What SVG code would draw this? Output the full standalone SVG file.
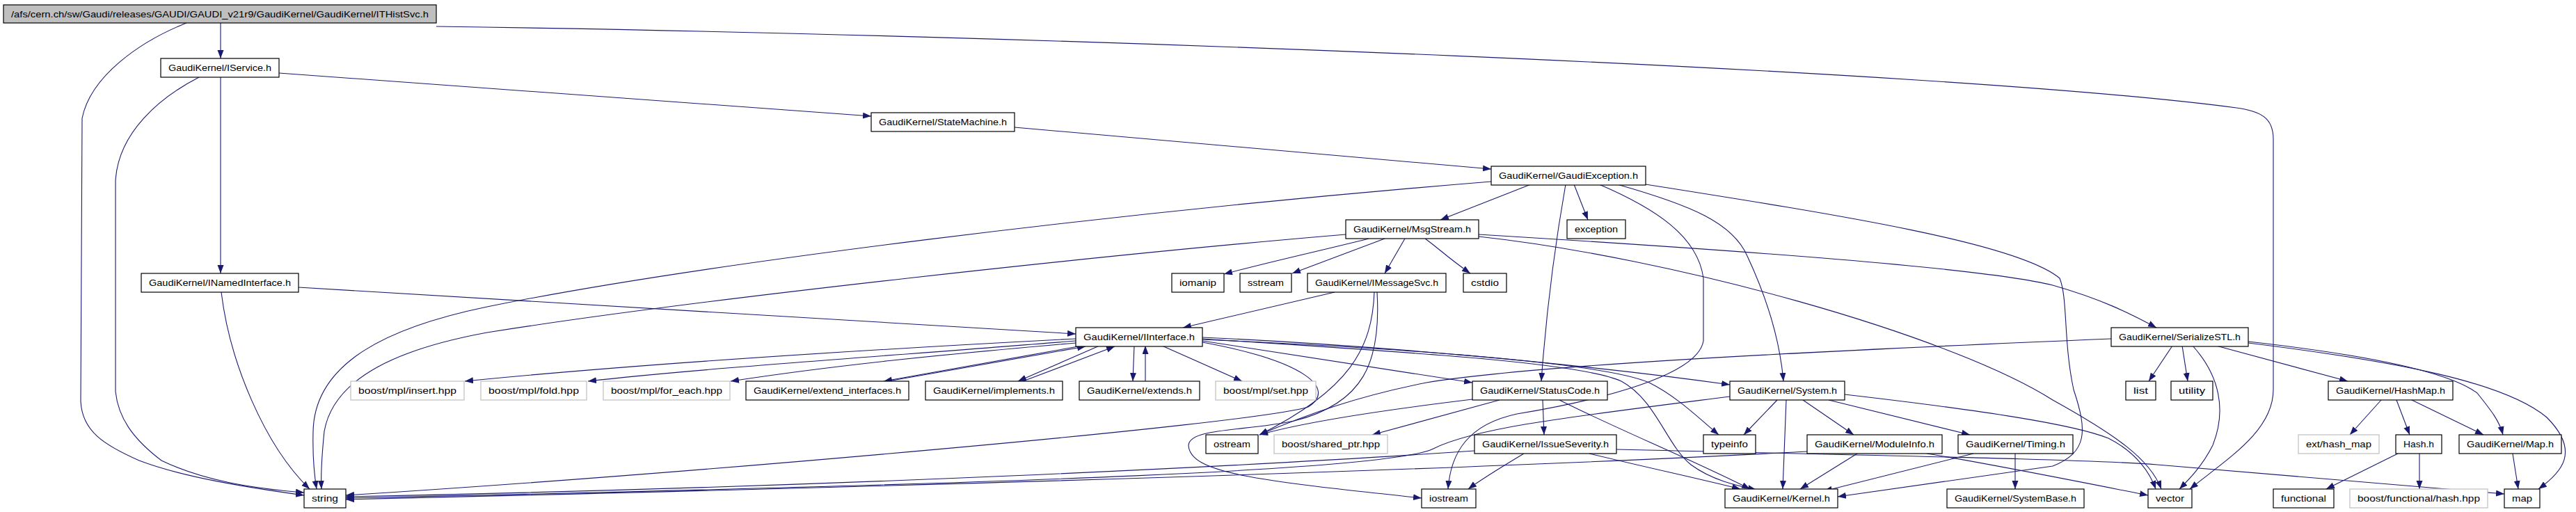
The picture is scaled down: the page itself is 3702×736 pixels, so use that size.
<svg xmlns="http://www.w3.org/2000/svg" width="3702" height="736" viewBox="0 0 3702 736">
<style>
.n rect{fill:#ffffff;stroke:#000000;stroke-width:1.2}
.n.g rect{stroke:#bfbfbf}
.n.r rect{fill:#bfbfbf}
.n text{font-family:"Liberation Sans",Arial,sans-serif;font-size:13px;text-anchor:middle;fill:#000000}
#edges path{fill:none;stroke:#191970;stroke-width:1.1;marker-end:url(#a)}
</style>
<defs>
<marker id="a" markerUnits="userSpaceOnUse" markerWidth="12" markerHeight="10" refX="12" refY="4.5" orient="auto"><path d="M0,0 L12,4.5 L0,9 z" fill="#191970" stroke="none"/></marker>
</defs>
<rect width="3702" height="736" fill="#ffffff"/>
<g id="edges">
<path d="M317,33 L317,84"/>
<path d="M268,33 C200,60 130,110 118,170 L116,577 C118,620 150,640 200,662 C260,685 350,700 437,712"/>
<path d="M627,38 C1500,50 2800,100 3214,155 C3250,160 3267,170 3267,200 L3267,560 C3267,620 3200,660 3147,703"/>
<path d="M317,111 L317,393"/>
<path d="M286,111 C230,140 170,190 166,260 L166,563 C170,600 190,630 232,662 C290,690 360,702 437,708"/>
<path d="M401,105 L1252,167"/>
<path d="M1458,183 L2143,243"/>
<path d="M318,420 C330,520 380,640 445,703"/>
<path d="M429,413 C900,440 1300,465 1546,480"/>
<path d="M2200,265 L2070,316"/>
<path d="M2143,261 C1600,305 1000,380 700,441 C560,470 452,520 450,620 C449,660 452,685 455,703"/>
<path d="M1934,337 C1600,365 1000,430 700,478 C580,500 480,540 466,620 C462,660 461,685 462,703"/>
<path d="M2262,265 L2282,316"/>
<path d="M2250,265 C2235,350 2222,450 2215,548"/>
<path d="M2298,265 C2380,300 2440,340 2448,400 L2448,490 C2440,540 2300,575 2180,595 C2110,610 2085,650 2081,703"/>
<path d="M2324,265 C2430,295 2490,320 2511,368 C2540,430 2558,490 2563,548"/>
<path d="M2365,265 C2650,310 2900,350 2960,400 C2972,430 2965,490 2980,560 C3000,620 3000,650 2950,670 L2641,714"/>
<path d="M1967,343 C1900,360 1830,375 1759,394"/>
<path d="M1990,343 L1857,393"/>
<path d="M2019,343 L1990,393"/>
<path d="M2048,343 C2065,355 2080,370 2113,393"/>
<path d="M2125,337 C2500,360 2850,385 2950,410 C3020,430 3060,450 3099,471"/>
<path d="M2125,340 C2400,370 2800,480 2950,575 C3040,625 3090,660 3106,703"/>
<path d="M1918,420 L1700,471"/>
<path d="M1975,420 C1972,500 1940,560 1810,625"/>
<path d="M1979,420 C1985,520 1960,580 1860,605 C1790,620 1710,615 1708,640 C1710,680 1800,690 2043,716"/>
<path d="M1728,492 C1880,520 1920,560 1880,585 C1800,610 1000,680 497,712"/>
<path d="M3034,487 C2600,505 2200,525 2050,550 C1950,570 1880,595 1810,625"/>
<path d="M2116,574 C2000,588 1880,605 1810,625"/>
<path d="M2155,575 L1972,625"/>
<path d="M2217,575 L2219,625"/>
<path d="M2241,575 C2320,615 2430,660 2515,703"/>
<path d="M2284,652 C2380,675 2450,690 2501,703"/>
<path d="M2323,646 C2700,655 3000,660 3100,668 L3599,710"/>
<path d="M2119,648 C1800,670 1200,700 497,714"/>
<path d="M2190,652 C2160,670 2130,688 2110,703"/>
<path d="M1728,490 L2116,550"/>
<path d="M1728,485 C1950,495 2250,520 2486,553"/>
<path d="M1728,487 C2000,505 2270,520 2330,548 C2380,575 2395,640 2430,668 C2460,690 2495,698 2524,704"/>
<path d="M1728,488 C2000,500 2300,520 2370,550 C2410,570 2440,600 2470,625"/>
<path d="M2554,575 L2506,625"/>
<path d="M2567,575 L2562,703"/>
<path d="M2591,575 L2664,625"/>
<path d="M2628,575 L2831,625"/>
<path d="M2651,567 C2850,590 2980,610 3030,630 C3070,650 3090,680 3098,703"/>
<path d="M2486,570 C2250,600 2120,615 2060,645 C2000,675 1500,695 497,716"/>
<path d="M2669,652 L2587,703"/>
<path d="M2597,649 C2300,665 1700,690 497,718"/>
<path d="M2769,652 C2850,665 2950,685 3087,712"/>
<path d="M2836,652 L2621,706"/>
<path d="M2896,652 L2896,703"/>
<path d="M3122,497 L3088,548"/>
<path d="M3136,497 L3144,548"/>
<path d="M3151,497 C3190,540 3200,590 3180,640 C3165,670 3145,690 3132,703"/>
<path d="M3185,497 L3374,548"/>
<path d="M3231,491 C3400,510 3520,535 3560,565 C3580,590 3592,605 3597,625"/>
<path d="M3231,493 C3450,520 3600,550 3660,600 C3710,650 3680,680 3648,703"/>
<path d="M3422,575 L3377,625"/>
<path d="M3444,575 L3463,625"/>
<path d="M3466,575 L3569,625"/>
<path d="M3446,652 L3343,703"/>
<path d="M3477,652 L3477,703"/>
<path d="M3611,652 L3619,703"/>
<path d="M1546,487 C1200,505 900,525 668,548"/>
<path d="M1546,490 C1300,510 1000,530 845,548"/>
<path d="M1546,493 C1350,510 1200,525 1050,548"/>
<path d="M1555,497 L1270,548"/>
<path d="M1276,548 L1560,498"/>
<path d="M1580,497 L1463,548"/>
<path d="M1470,548 L1602,498"/>
<path d="M1630,497 L1628,548"/>
<path d="M1646,548 L1646,497"/>
<path d="M1670,497 L1785,548"/>
</g>
<g id="n1" class="n r"><rect x="5" y="7" width="622" height="26"/><text x="316" y="25" textLength="600" lengthAdjust="spacingAndGlyphs">/afs/cern.ch/sw/Gaudi/releases/GAUDI/GAUDI_v21r9/GaudiKernel/GaudiKernel/ITHistSvc.h</text></g>
<g id="n2" class="n"><rect x="231" y="84" width="170" height="27"/><text x="316" y="102" textLength="148" lengthAdjust="spacingAndGlyphs">GaudiKernel/IService.h</text></g>
<g id="n3" class="n"><rect x="1252" y="162" width="206" height="27"/><text x="1355" y="180" textLength="184" lengthAdjust="spacingAndGlyphs">GaudiKernel/StateMachine.h</text></g>
<g id="n4" class="n"><rect x="2143" y="239" width="222" height="27"/><text x="2254" y="257" textLength="200" lengthAdjust="spacingAndGlyphs">GaudiKernel/GaudiException.h</text></g>
<g id="n5" class="n"><rect x="1934" y="316" width="191" height="27"/><text x="2029.5" y="334" textLength="169" lengthAdjust="spacingAndGlyphs">GaudiKernel/MsgStream.h</text></g>
<g id="n6" class="n"><rect x="2252" y="316" width="84" height="27"/><text x="2294" y="334" textLength="62" lengthAdjust="spacingAndGlyphs">exception</text></g>
<g id="n7" class="n"><rect x="203" y="393" width="226" height="27"/><text x="316" y="411" textLength="204" lengthAdjust="spacingAndGlyphs">GaudiKernel/INamedInterface.h</text></g>
<g id="n8" class="n"><rect x="1684" y="393" width="75" height="27"/><text x="1721.5" y="411" textLength="53" lengthAdjust="spacingAndGlyphs">iomanip</text></g>
<g id="n9" class="n"><rect x="1782" y="393" width="74" height="27"/><text x="1819" y="411" textLength="52" lengthAdjust="spacingAndGlyphs">sstream</text></g>
<g id="n10" class="n"><rect x="1879" y="393" width="199" height="27"/><text x="1978.5" y="411" textLength="177" lengthAdjust="spacingAndGlyphs">GaudiKernel/IMessageSvc.h</text></g>
<g id="n11" class="n"><rect x="2103" y="393" width="62" height="27"/><text x="2134" y="411" textLength="40" lengthAdjust="spacingAndGlyphs">cstdio</text></g>
<g id="n12" class="n"><rect x="1546" y="471" width="182" height="27"/><text x="1637" y="489" textLength="160" lengthAdjust="spacingAndGlyphs">GaudiKernel/IInterface.h</text></g>
<g id="n13" class="n"><rect x="3034" y="471" width="197" height="27"/><text x="3132.5" y="489" textLength="175" lengthAdjust="spacingAndGlyphs">GaudiKernel/SerializeSTL.h</text></g>
<g id="n14" class="n g"><rect x="504" y="548" width="163" height="27"/><text x="585.5" y="566" textLength="141" lengthAdjust="spacingAndGlyphs">boost/mpl/insert.hpp</text></g>
<g id="n15" class="n g"><rect x="691" y="548" width="152" height="27"/><text x="767" y="566" textLength="130" lengthAdjust="spacingAndGlyphs">boost/mpl/fold.hpp</text></g>
<g id="n16" class="n g"><rect x="867" y="548" width="182" height="27"/><text x="958" y="566" textLength="160" lengthAdjust="spacingAndGlyphs">boost/mpl/for_each.hpp</text></g>
<g id="n17" class="n"><rect x="1072" y="548" width="234" height="27"/><text x="1189" y="566" textLength="212" lengthAdjust="spacingAndGlyphs">GaudiKernel/extend_interfaces.h</text></g>
<g id="n18" class="n"><rect x="1330" y="548" width="197" height="27"/><text x="1428.5" y="566" textLength="175" lengthAdjust="spacingAndGlyphs">GaudiKernel/implements.h</text></g>
<g id="n19" class="n"><rect x="1551" y="548" width="173" height="27"/><text x="1637.5" y="566" textLength="151" lengthAdjust="spacingAndGlyphs">GaudiKernel/extends.h</text></g>
<g id="n20" class="n g"><rect x="1747" y="548" width="144" height="27"/><text x="1819" y="566" textLength="122" lengthAdjust="spacingAndGlyphs">boost/mpl/set.hpp</text></g>
<g id="n21" class="n"><rect x="2116" y="548" width="194" height="27"/><text x="2213" y="566" textLength="172" lengthAdjust="spacingAndGlyphs">GaudiKernel/StatusCode.h</text></g>
<g id="n22" class="n"><rect x="2486" y="548" width="165" height="27"/><text x="2568.5" y="566" textLength="143" lengthAdjust="spacingAndGlyphs">GaudiKernel/System.h</text></g>
<g id="n23" class="n"><rect x="3055" y="548" width="43" height="27"/><text x="3076.5" y="566" textLength="21" lengthAdjust="spacingAndGlyphs">list</text></g>
<g id="n24" class="n"><rect x="3120" y="548" width="60" height="27"/><text x="3150" y="566" textLength="38" lengthAdjust="spacingAndGlyphs">utility</text></g>
<g id="n25" class="n"><rect x="3346" y="548" width="179" height="27"/><text x="3435.5" y="566" textLength="157" lengthAdjust="spacingAndGlyphs">GaudiKernel/HashMap.h</text></g>
<g id="n26" class="n"><rect x="1733" y="625" width="75" height="27"/><text x="1770.5" y="643" textLength="53" lengthAdjust="spacingAndGlyphs">ostream</text></g>
<g id="n27" class="n g"><rect x="1831" y="625" width="163" height="27"/><text x="1912.5" y="643" textLength="141" lengthAdjust="spacingAndGlyphs">boost/shared_ptr.hpp</text></g>
<g id="n28" class="n"><rect x="2119" y="625" width="204" height="27"/><text x="2221" y="643" textLength="182" lengthAdjust="spacingAndGlyphs">GaudiKernel/IssueSeverity.h</text></g>
<g id="n29" class="n"><rect x="2448" y="625" width="75" height="27"/><text x="2485.5" y="643" textLength="53" lengthAdjust="spacingAndGlyphs">typeinfo</text></g>
<g id="n30" class="n"><rect x="2597" y="625" width="194" height="27"/><text x="2694" y="643" textLength="172" lengthAdjust="spacingAndGlyphs">GaudiKernel/ModuleInfo.h</text></g>
<g id="n31" class="n"><rect x="2814" y="625" width="165" height="27"/><text x="2896.5" y="643" textLength="143" lengthAdjust="spacingAndGlyphs">GaudiKernel/Timing.h</text></g>
<g id="n32" class="n g"><rect x="3303" y="625" width="116" height="27"/><text x="3361" y="643" textLength="94" lengthAdjust="spacingAndGlyphs">ext/hash_map</text></g>
<g id="n33" class="n"><rect x="3443" y="625" width="66" height="27"/><text x="3476" y="643" textLength="44" lengthAdjust="spacingAndGlyphs">Hash.h</text></g>
<g id="n34" class="n"><rect x="3534" y="625" width="147" height="27"/><text x="3607.5" y="643" textLength="125" lengthAdjust="spacingAndGlyphs">GaudiKernel/Map.h</text></g>
<g id="n35" class="n"><rect x="437" y="703" width="60" height="27"/><text x="467" y="721" textLength="38" lengthAdjust="spacingAndGlyphs">string</text></g>
<g id="n36" class="n"><rect x="2043" y="703" width="78" height="27"/><text x="2082" y="721" textLength="56" lengthAdjust="spacingAndGlyphs">iostream</text></g>
<g id="n37" class="n"><rect x="2479" y="703" width="162" height="27"/><text x="2560" y="721" textLength="140" lengthAdjust="spacingAndGlyphs">GaudiKernel/Kernel.h</text></g>
<g id="n38" class="n"><rect x="2798" y="703" width="197" height="27"/><text x="2896.5" y="721" textLength="175" lengthAdjust="spacingAndGlyphs">GaudiKernel/SystemBase.h</text></g>
<g id="n39" class="n"><rect x="3087" y="703" width="63" height="27"/><text x="3118.5" y="721" textLength="41" lengthAdjust="spacingAndGlyphs">vector</text></g>
<g id="n40" class="n"><rect x="3267" y="703" width="87" height="27"/><text x="3310.5" y="721" textLength="65" lengthAdjust="spacingAndGlyphs">functional</text></g>
<g id="n41" class="n g"><rect x="3377" y="703" width="198" height="27"/><text x="3476" y="721" textLength="176" lengthAdjust="spacingAndGlyphs">boost/functional/hash.hpp</text></g>
<g id="n42" class="n"><rect x="3599" y="703" width="51" height="27"/><text x="3624.5" y="721" textLength="29" lengthAdjust="spacingAndGlyphs">map</text></g>
</svg>
